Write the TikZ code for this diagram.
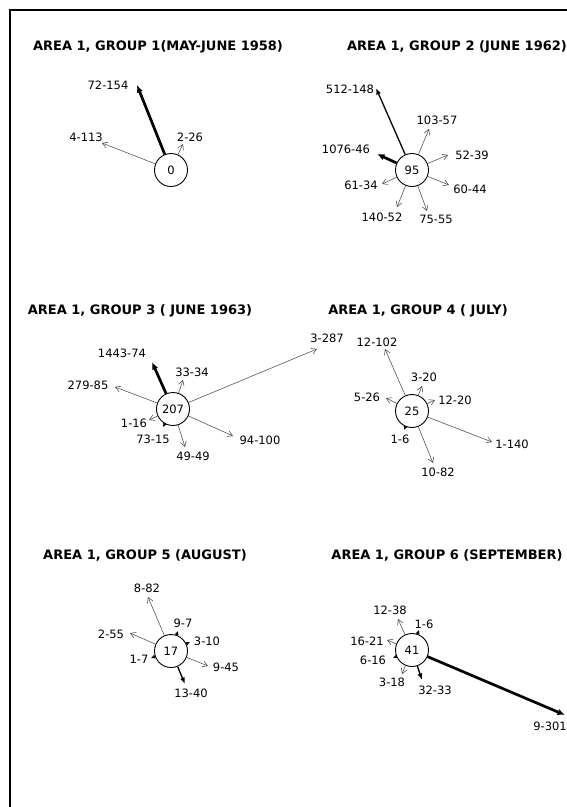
\documentclass[tikz,border=0pt]{standalone}
\usepackage{fontspec}
\setmainfont{DejaVu Sans}
\usetikzlibrary{arrows.meta}
\tikzset{
  grp/.style ={circle,draw,line width=0.9pt,minimum size=33pt,inner sep=0pt,
               font=\fontsize{11.5}{13}\selectfont},
  ttl/.style ={font=\fontsize{13}{15}\selectfont\bfseries},
  lbl/.style ={font=\fontsize{11.5}{13}\selectfont,inner sep=1pt},
  thn/.style ={-{Straight Barb[length=5pt,width=6pt]},draw=black!70,line width=0.55pt},
  mid/.style ={-{Latex[length=6.5pt,width=5pt]},line width=1.3pt},
  thk/.style ={-{Latex[length=7.5pt,width=6.5pt]},line width=2.7pt},
  tck/.style ={-{Latex[length=4pt,width=4pt]},line width=0.5pt},
  frm/.style ={line width=1.2pt},
}

\begin{document}
\begin{tikzpicture}[x=1pt,y=-1pt]
\path[fill=white] (0,0) rectangle (567,807);
\useasboundingbox (0,0) rectangle (567,807);

% open frame, top and left side only
\coordinate (fc) at (10,10);
\draw[frm] (567,10) -- (fc) -- (10,807);

\node[ttl] (h1) at (158,47)  {AREA 1, GROUP 1(MAY-JUNE 1958)};
\node[ttl] (h2) at (457,47)  {AREA 1, GROUP 2 (JUNE 1962)};
\node[ttl] (h3) at (140,311) {AREA 1, GROUP 3 ( JUNE 1963)};
\node[ttl] (h4) at (418,311) {AREA 1, GROUP 4 ( JULY)};
\node[ttl] (h5) at (145,555) {AREA 1, GROUP 5 (AUGUST)};
\node[ttl] (h6) at (447,555) {AREA 1, GROUP 6 (SEPTEMBER)};

% each spoke: style / tip x / tip y / label x / label y / text
\node[grp] (g1) at (171,170) {0};
\foreach \st/\tx/\ty/\lx/\ly/\txt [count=\i] in {
  thk/137/85/108/85/72-154, thn/102/143/86/137/4-113, thn/183/144/190/137/2-26}{
  \coordinate (g1t\i) at (\tx,\ty);
  \node[lbl] (g1l\i) at (\lx,\ly) {\txt};
  \draw[\st] (g1) -- (g1t\i);}

\node[grp] (g2) at (412,170) {95};
\foreach \st/\tx/\ty/\lx/\ly/\txt [count=\i] in {
  mid/376/88/350/89/512-148, thn/429/129/437/120/103-57,
  thk/377/154/346/149/1076-46, thn/448/155/472/155/52-39,
  thn/449/185/470/189/60-44, thn/382/184/361/185/61-34,
  thn/397/207/382/217/140-52, thn/427/211/436/219/75-55}{
  \coordinate (g2t\i) at (\tx,\ty);
  \node[lbl] (g2l\i) at (\lx,\ly) {\txt};
  \draw[\st] (g2) -- (g2t\i);}

\node[grp] (g3) at (173,409) {207};
\foreach \st/\tx/\ty/\lx/\ly/\txt [count=\i] in {
  thk/152/362/122/353/1443-74, thn/183/380/192/372/33-34,
  thn/115/387/88/385/279-85, thn/317/349/327/338/3-287,
  thn/149/420/134/423/1-16, tck/163/427/153/439/73-15,
  thn/185/447/193/456/49-49, thn/233/436/260/440/94-100}{
  \coordinate (g3t\i) at (\tx,\ty);
  \node[lbl] (g3l\i) at (\lx,\ly) {\txt};
  \draw[\st] (g3) -- (g3t\i);}

\node[grp] (g4) at (412,411) {25};
\foreach \st/\tx/\ty/\lx/\ly/\txt [count=\i] in {
  thn/385/349/377/342/12-102, thn/422/386/424/377/3-20,
  thn/386/398/367/397/5-26, thn/435/400/455/400/12-20,
  tck/404/430/400/439/1-6, thn/433/463/438/472/10-82,
  thn/492/442/512/444/1-140}{
  \coordinate (g4t\i) at (\tx,\ty);
  \node[lbl] (g4l\i) at (\lx,\ly) {\txt};
  \draw[\st] (g4) -- (g4t\i);}

\node[grp] (g5) at (171,651) {17};
\foreach \st/\tx/\ty/\lx/\ly/\txt [count=\i] in {
  thn/148/597/147/588/8-82, tck/178/631/183/623/9-7,
  tck/190/642/207/641/3-10, thn/130/633/111/634/2-55,
  tck/151/658/139/659/1-7, thn/208/666/226/667/9-45,
  mid/185/684/191/693/13-40}{
  \coordinate (g5t\i) at (\tx,\ty);
  \node[lbl] (g5l\i) at (\lx,\ly) {\txt};
  \draw[\st] (g5) -- (g5t\i);}

\node[grp] (g6) at (412,650) {41};
\foreach \st/\tx/\ty/\lx/\ly/\txt [count=\i] in {
  thn/398/619/390/610/12-38, tck/419/630/424/624/1-6,
  thn/387/640/367/641/16-21, tck/393/658/373/660/6-16,
  thn/402/674/392/682/3-18, mid/422/680/435/690/32-33,
  thk/565/715/550/726/9-301}{
  \coordinate (g6t\i) at (\tx,\ty);
  \node[lbl] (g6l\i) at (\lx,\ly) {\txt};
  \draw[\st] (g6) -- (g6t\i);}
\end{tikzpicture}
\end{document}
